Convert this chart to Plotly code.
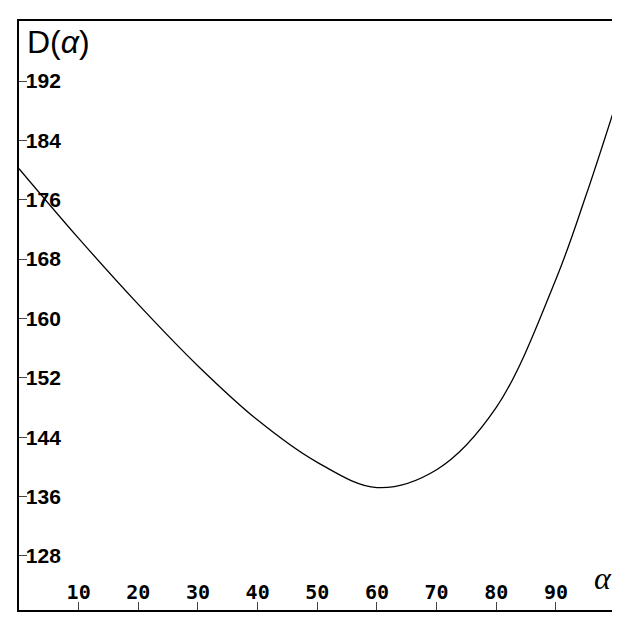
import plotly.graph_objects as go

alpha = [0, 10, 20, 30, 40, 50, 60, 70, 80, 90, 95, 99.8]
d_alpha = [180.2, 170.8, 161.9, 153.6, 146.3, 140.6, 137.2, 139.6, 148.0, 165.3, 176.5, 188.3]

x_ticks = [10, 20, 30, 40, 50, 60, 70, 80, 90]
y_ticks = [120, 128, 136, 144, 152, 160, 168, 176, 184, 192]

fig = go.Figure()
fig.add_trace(go.Scatter(x=alpha, y=d_alpha, mode="lines",
                         line=dict(color="black", width=1.3, shape="spline", smoothing=1.0)))

fig.update_layout(
    width=620, height=620,
    margin=dict(l=11, r=13, t=11, b=18),
    plot_bgcolor="white", paper_bgcolor="white",
    showlegend=False,
    xaxis=dict(range=[0, 99.9], tickvals=x_ticks,
               ticktext=[f"<b>{v}</b>" for v in x_ticks],
               ticks="inside", ticklen=8, ticklabelposition="inside",
               tickfont=dict(family="DejaVu Sans Mono", size=20, color="black"),
               showgrid=False, zeroline=False, showline=True, mirror=True,
               linecolor="black", linewidth=2),
    yaxis=dict(range=[120.7, 200.1], tickvals=y_ticks,
               ticktext=[f"<b>{v}</b>" for v in y_ticks],
               ticks="inside", ticklen=8, ticklabelposition="inside",
               tickfont=dict(family="Liberation Sans", size=21, color="black"),
               showgrid=False, zeroline=False, showline=True, mirror=True,
               linecolor="black", linewidth=2),
    annotations=[
        dict(text="D(<i>α</i>)", x=0.01, y=0.998, xref="paper", yref="paper",
             xanchor="left", yanchor="top", showarrow=False,
             font=dict(family="Liberation Sans", size=32, color="black")),
        dict(text="<i>α</i>", x=0.998, y=0.02, xref="paper", yref="paper",
             xanchor="right", yanchor="bottom", showarrow=False,
             font=dict(family="Liberation Serif", size=32, color="black")),
    ],
)

fig.write_html("out.html")
